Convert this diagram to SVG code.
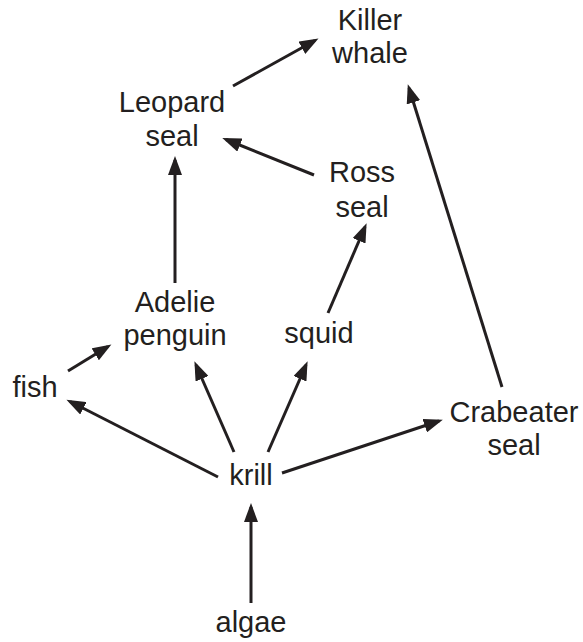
<svg xmlns="http://www.w3.org/2000/svg" width="583" height="642" viewBox="0 0 583 642">
<style>
text{font-family:"Liberation Sans",Arial,sans-serif;font-size:29px;fill:#231f20;text-anchor:middle}
.c line{stroke:#231f20;stroke-width:3;marker-end:url(#ah)}
</style>
<defs>
<marker id="ah" markerUnits="userSpaceOnUse" markerWidth="20" markerHeight="14" refX="15" refY="7" orient="auto">
<path d="M0,0 L19,7 L0,14 z" fill="#231f20"/>
</marker>
</defs>
<rect width="583" height="642" fill="#fff"/>
<g class="c" id="connectors">
<line x1="233" y1="86" x2="315" y2="40.5"/>
<line x1="314" y1="175" x2="226" y2="139.5"/>
<line x1="175" y1="283" x2="175" y2="160"/>
<line x1="328" y1="313" x2="365" y2="227"/>
<line x1="68" y1="371" x2="108" y2="346.5"/>
<line x1="218" y1="477" x2="70" y2="401.5"/>
<line x1="234" y1="452" x2="196" y2="365"/>
<line x1="268" y1="452" x2="306" y2="365"/>
<line x1="282" y1="473" x2="439" y2="421"/>
<line x1="502" y1="387" x2="409" y2="88"/>
<line x1="251" y1="603" x2="251" y2="507"/>
</g>
<g id="killer-whale"><text x="370" y="30">Killer</text><text x="370" y="63">whale</text></g>
<g id="leopard-seal"><text x="172" y="112">Leopard</text><text x="172" y="146">seal</text></g>
<g id="ross-seal"><text x="362" y="182">Ross</text><text x="362" y="217">seal</text></g>
<g id="adelie-penguin"><text x="175" y="312">Adelie</text><text x="175" y="345">penguin</text></g>
<g id="squid"><text x="319" y="343">squid</text></g>
<g id="fish"><text x="35" y="397">fish</text></g>
<g id="crabeater-seal"><text x="514" y="422">Crabeater</text><text x="514" y="455">seal</text></g>
<g id="krill"><text x="251" y="485">krill</text></g>
<g id="algae"><text x="251" y="632">algae</text></g>
</svg>
